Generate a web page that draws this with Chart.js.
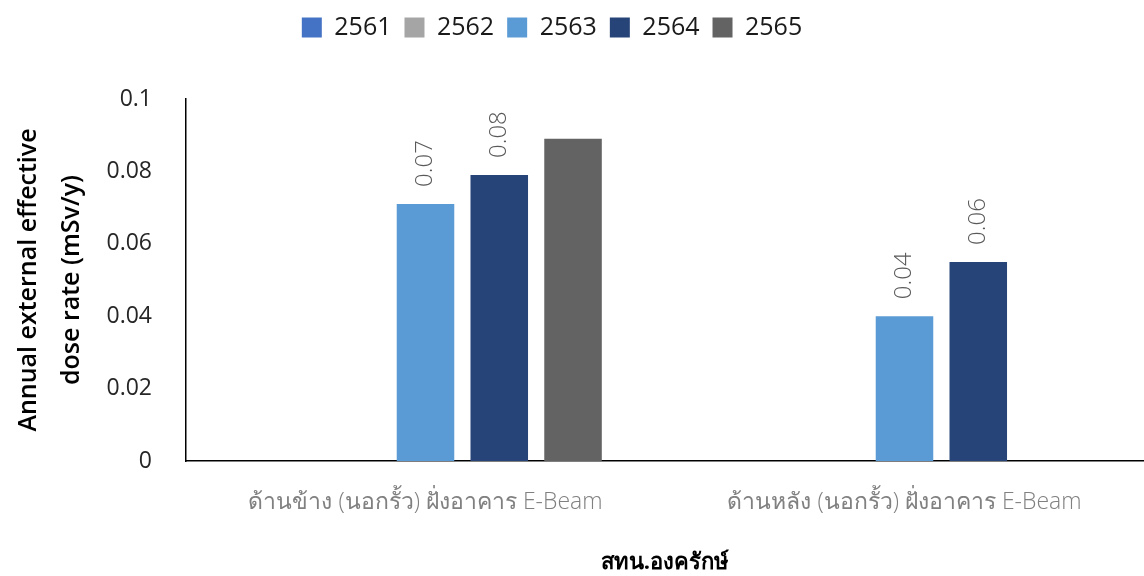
<!DOCTYPE html>
<html>
<head>
<meta charset="utf-8">
<script src="https://cdn.jsdelivr.net/npm/chart.js@4.4.0/dist/chart.umd.min.js"></script>
<style>
  html, body { margin: 0; padding: 0; background: #fff; }
  #wrap { width: 1144px; height: 576px; }
</style>
</head>
<body>
<div id="wrap"><canvas id="myChart"></canvas></div>
<script>
const categories = ['ด้านข้าง (นอกรั้ว) ฝั่งอาคาร E-Beam', 'ด้านหลัง (นอกรั้ว) ฝั่งอาคาร E-Beam'];
const years = ['2561', '2562', '2563', '2564', '2565'];
const values2561 = [null, null];
const values2562 = [null, null];
const values2563 = [0.071, 0.040];
const values2564 = [0.079, 0.055];
const values2565 = [0.089, null];
const labelledYears = ['2563', '2564'];
const yTicks = [0, 0.02, 0.04, 0.06, 0.08, 0.1];

const colors = ['#4472C4', '#A5A5A5', '#5B9BD5', '#264478', '#636363'];
const allValues = [values2561, values2562, values2563, values2564, values2565];
const FONT = "'Open Sans', 'Noto Sans', 'DejaVu Sans', sans-serif";

const datasets = years.map(function (y, i) {
    return {
        label: y,
        data: allValues[i],
        backgroundColor: colors[i],
        borderWidth: 0,
        barPercentage: 0.78,
        categoryPercentage: 0.77
    };
});

// rotated value labels above the bars
const barLabels = {
    id: 'barLabels',
    afterDatasetsDraw(chart) {
        const ctx = chart.ctx;
        chart.data.datasets.forEach(function (ds, i) {
            if (labelledYears.indexOf(ds.label) < 0) return;
            const meta = chart.getDatasetMeta(i);
            meta.data.forEach(function (bar, j) {
                const v = ds.data[j];
                if (v === null) return;
                const txt = (Math.round(v * 100 + 1e-9) / 100).toFixed(2);
                ctx.save();
                ctx.translate(bar.x, bar.y - 17);
                ctx.rotate(-Math.PI / 2);
                ctx.font = '300 24px ' + FONT;
                ctx.fillStyle = '#595959';
                ctx.textAlign = 'left';
                ctx.textBaseline = 'middle';
                ctx.fillText(txt, 0, 0);
                ctx.restore();
            });
        });
    }
};

// extra room under the legend, and nudge it a little left
const legendSpace = {
    id: 'legendSpace',
    beforeInit(chart) {
        const fit = chart.legend.fit;
        chart.legend.fit = function () {
            fit.bind(chart.legend)();
            this.height += 49;
        };
    },
    afterLayout(chart) {
        chart.legend.left -= 22;
        chart.legend.right -= 22;
    }
};

new Chart(document.getElementById('myChart'), {
    type: 'bar',
    data: { labels: categories, datasets: datasets },
    plugins: [barLabels, legendSpace],
    options: {
        responsive: true,
        maintainAspectRatio: false,
        animation: false,
        layout: { padding: { top: 2, right: 0, left: 4, bottom: 0 } },
        plugins: {
            tooltip: { enabled: false },
            legend: {
                position: 'top',
                labels: {
                    boxWidth: 20,
                    boxHeight: 20,
                    padding: 13,
                    color: '#1a1a1a',
                    font: { family: FONT, size: 25 }
                }
            }
        },
        scales: {
            x: {
                grid: { display: false, drawTicks: false },
                border: { color: '#000', width: 1.5 },
                ticks: {
                    color: '#808080',
                    padding: 28,
                    maxRotation: 0,
                    font: { family: FONT, size: 23, weight: '300' }
                },
                title: {
                    display: true,
                    text: 'สทน.องครักษ์',
                    color: '#000',
                    padding: { top: 27, bottom: 0 },
                    font: { family: FONT, size: 22, weight: 'bold' }
                },
                afterFit(scale) { scale.height = 115; }
            },
            y: {
                min: 0,
                max: 0.1,
                grid: { display: false, drawTicks: false },
                border: { color: '#000', width: 1.5 },
                afterBuildTicks(scale) {
                    scale.ticks = yTicks.map(function (v) { return { value: v }; });
                },
                ticks: {
                    color: '#262626',
                    padding: 34,
                    font: { family: FONT, size: 23 },
                    callback: function (v) { return String(v); }
                },
                title: {
                    display: true,
                    text: ['Annual external effective', 'dose rate (mSv/y)'],
                    color: '#000',
                    padding: 4,
                    font: { family: FONT, size: 25, weight: '600', lineHeight: 1.7 }
                },
                afterFit(scale) { scale.width = 182; }
            }
        }
    }
});
</script>
</body>
</html>
